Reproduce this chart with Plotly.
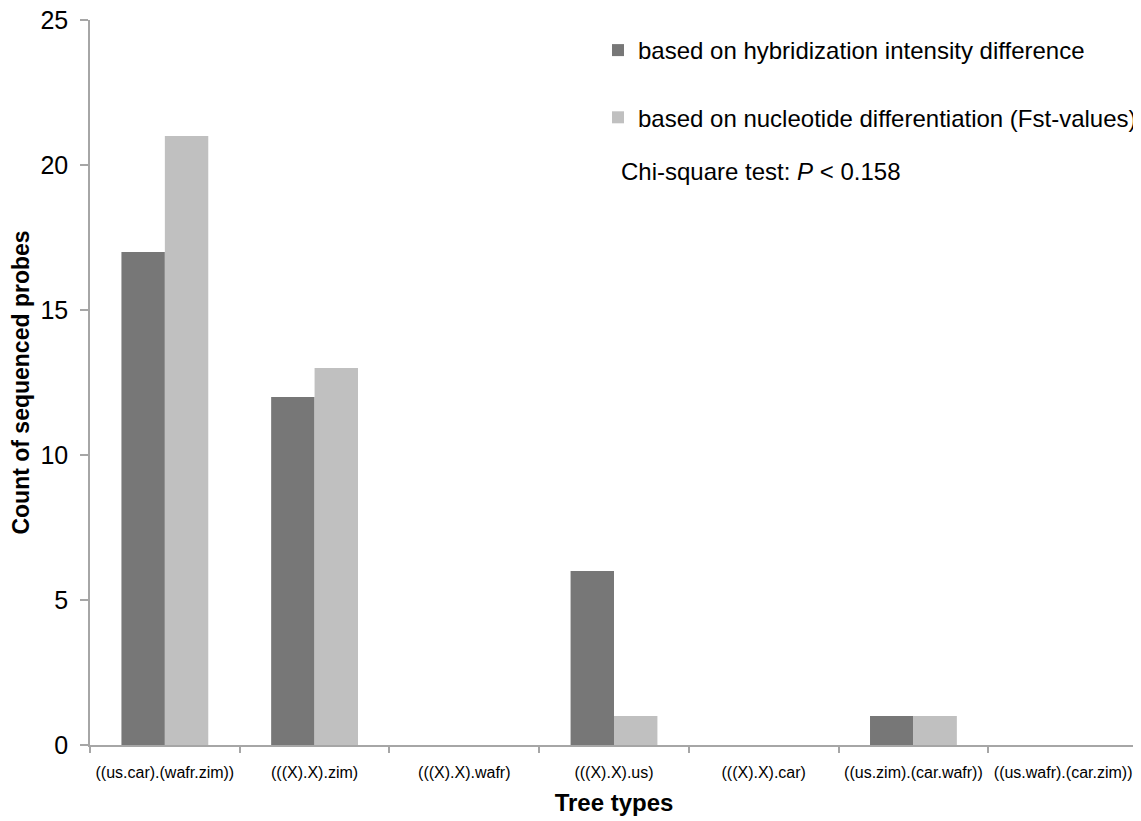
import plotly.graph_objects as go

categories = ["((us.car).(wafr.zim))", "(((X).X).zim)", "(((X).X).wafr)", "(((X).X).us)",
              "(((X).X).car)", "((us.zim).(car.wafr))", "((us.wafr).(car.zim))"]
hybridization = [17, 12, 0, 6, 0, 1, 0]
nucleotide = [21, 13, 0, 1, 0, 1, 0]
series_names = ["based on hybridization intensity difference",
                "based on nucleotide differentiation (Fst-values)"]
y_ticks = [0, 5, 10, 15, 20, 25]

FONT = "Liberation Sans, Arial, sans-serif"
AXIS_GRAY = "#a6a6a6"

fig = go.Figure()
fig.add_trace(go.Bar(x=categories, y=hybridization, name=series_names[0],
                     marker=dict(color="#777777", line=dict(width=0)),
                     legendgroup="a"))
fig.add_trace(go.Bar(x=categories, y=nucleotide, name=series_names[1],
                     marker=dict(color="#c0c0c0", line=dict(width=0)),
                     legendgroup="b"))

# the page body adds an 8px offset, margins compensate for it
fig.update_layout(
    width=1141, height=821,
    margin=dict(l=82, r=11, t=12, b=84, autoexpand=False),
    paper_bgcolor="white", plot_bgcolor="white",
    font=dict(family=FONT, color="black"),
    barmode="group", bargap=0.42, bargroupgap=0,
    showlegend=True,
    legend=dict(x=(598 - 90) / 1048, xanchor="left", y=(745 - 28) / 725, yanchor="top",
                font=dict(size=24, family=FONT, color="black"),
                tracegroupgap=33, bgcolor="rgba(0,0,0,0)", borderwidth=0,
                traceorder="grouped"),
    xaxis=dict(type="category", tickson="boundaries", ticks="outside", ticklen=6,
               tickcolor=AXIS_GRAY, tickwidth=1.5, showline=True, linecolor=AXIS_GRAY,
               linewidth=1.5, showgrid=False, tickfont=dict(size=16, family=FONT),
               ticklabelstandoff=12, automargin=False, ticklabeloverflow="allow",
               title=dict(text="<b>Tree types</b>", font=dict(size=24, family=FONT),
                          standoff=14)),
    yaxis=dict(range=[0, 25], tickvals=y_ticks, ticks="outside", ticklen=8,
               tickcolor=AXIS_GRAY, tickwidth=1.5, showline=True, linecolor=AXIS_GRAY,
               linewidth=1.5, showgrid=False, zeroline=False, automargin=False,
               ticklabeloverflow="allow",
               tickfont=dict(size=25, family=FONT), ticklabelstandoff=7,
               title=dict(text="<b>Count of sequenced probes</b>",
                          font=dict(size=23, family=FONT), standoff=4)),
)

fig.add_annotation(text="Chi-square test: <i>P</i> < 0.158", xref="paper", yref="paper",
                   x=(619 - 90) / 1048, y=(745 - 172) / 725, xanchor="left", yanchor="middle",
                   showarrow=False, font=dict(size=24, family=FONT, color="black"))

fig.write_html("out.html")
